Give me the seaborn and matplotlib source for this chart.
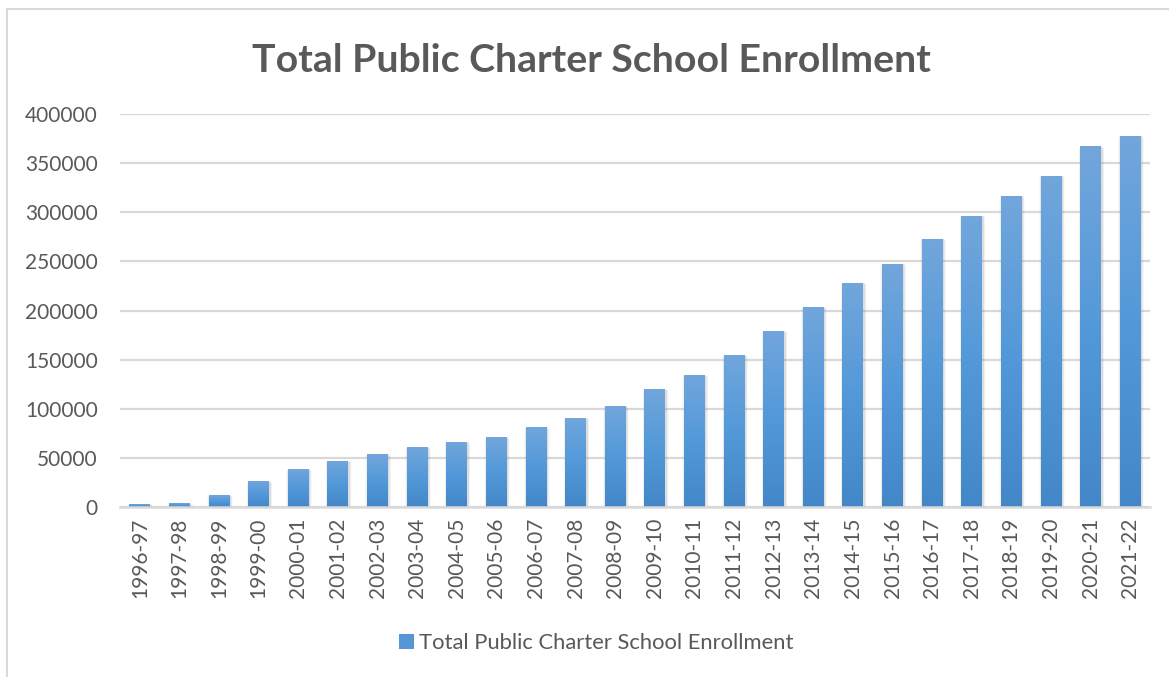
import numpy as np
import pandas as pd
import matplotlib
matplotlib.use("Agg")
import matplotlib.pyplot as plt
from matplotlib.lines import Line2D
from matplotlib.patches import Rectangle
from matplotlib.colors import LinearSegmentedColormap
import seaborn as sns

# School years and total enrollment in public charter schools
years = ["1996-97", "1997-98", "1998-99", "1999-00", "2000-01", "2001-02", "2002-03",
         "2003-04", "2004-05", "2005-06", "2006-07", "2007-08", "2008-09", "2009-10",
         "2010-11", "2011-12", "2012-13", "2013-14", "2014-15", "2015-16", "2016-17",
         "2017-18", "2018-19", "2019-20", "2020-21", "2021-22"]
enrollment = [3000, 4000, 12000, 26500, 38700, 46900, 53900,
              61000, 66200, 71300, 81500, 90700, 102900, 120200,
              134500, 154900, 179400, 203800, 228300, 247700, 273200,
              296600, 317000, 337400, 367000, 378000]
y_ticks = [0, 50000, 100000, 150000, 200000, 250000, 300000, 350000, 400000]
series_name = "Total Public Charter School Enrollment"
chart_title = "Total Public Charter School Enrollment"

df = pd.DataFrame({"year": years, "enrollment": enrollment})

sns.set_theme(style="white")
plt.rcParams["font.family"] = ["Lato", "DejaVu Sans"]

TEXT = "#595959"
GRID = "#d9d9d9"
TOP_BLUE = "#72a6dc"
BOTTOM_BLUE = "#4387c8"

fig = plt.figure(figsize=(11.69, 6.77), dpi=100)
ax = fig.add_axes([0.1027, 0.2511, 0.8811, 0.5805])

sns.barplot(data=df, x="year", y="enrollment", color=BOTTOM_BLUE, width=0.53,
            saturation=1, linewidth=0, edgecolor="none", ax=ax, zorder=3)

ax.set_ylim(0, 400000)
ax.set_xlim(-0.5, len(years) - 0.5)
ax.set_yticks(y_ticks)
ax.set_yticklabels([str(t) for t in y_ticks])
ax.yaxis.grid(True, color=GRID, linewidth=1.6, zorder=0)
ax.set_axisbelow(True)
for s in ["top", "right", "left"]:
    ax.spines[s].set_visible(False)
ax.spines["bottom"].set_color(GRID)
ax.spines["bottom"].set_linewidth(1.8)
ax.spines["bottom"].set_zorder(6)
ax.set_xlabel("")
ax.set_ylabel("")
ax.tick_params(axis="y", length=0, pad=16, labelsize=15, labelcolor=TEXT)
ax.tick_params(axis="x", length=0, pad=8, labelsize=15, labelcolor=TEXT,
               labelrotation=90)

# Vertical gradient fill and soft shadow for every bar
grad_cmap = LinearSegmentedColormap.from_list("bar_grad", [BOTTOM_BLUE, "#5399d9", TOP_BLUE])
grad = np.linspace(0, 1, 256).reshape(-1, 1)
bars = list(ax.patches)
for p in bars:
    x0, w, h = p.get_x(), p.get_width(), p.get_height()
    for k, a in zip(range(4, 0, -1), [0.04, 0.06, 0.08, 0.10]):
        dx = 0.03 * k
        dy = 1000 * k
        sh = Rectangle((x0 - dx * 0.5 + 0.02, -dy), w + dx, h + dy * 0.6,
                       facecolor="#7f7f7f", edgecolor="none", linewidth=0,
                       alpha=a, zorder=2)
        ax.add_patch(sh)
    im = ax.imshow(grad, cmap=grad_cmap, origin="lower", aspect="auto",
                   extent=(x0, x0 + w, 0, h), zorder=4, interpolation="bilinear")
    im.set_clip_path(p)
    p.set_facecolor("none")
    p.set_edgecolor("none")
    p.set_linewidth(0)
    p.set_zorder(4)
ax.set_xlim(-0.5, len(years) - 0.5)
ax.set_ylim(0, 400000)

fig.suptitle(chart_title, x=0.506, y=0.937, fontsize=28.3, fontweight="bold",
             color=TEXT)

handle = Rectangle((0, 0), 1, 1, facecolor="#5596d6", edgecolor="none")
fig.legend([handle], [series_name], loc="center", bbox_to_anchor=(0.510, 0.050),
           frameon=False, fontsize=15.8, labelcolor=TEXT, handlelength=0.7,
           handleheight=0.7, handletextpad=0.2)

# Light outer frame of the chart area
fig.add_artist(Line2D([7 / 1169, 1.0], [1 - 9 / 677, 1 - 9 / 677],
                      transform=fig.transFigure, color=GRID, linewidth=1.5))
fig.add_artist(Line2D([7 / 1169, 7 / 1169], [0.0, 1 - 9 / 677],
                      transform=fig.transFigure, color=GRID, linewidth=1.5))

fig.savefig("out.png", dpi=100, facecolor="white")
